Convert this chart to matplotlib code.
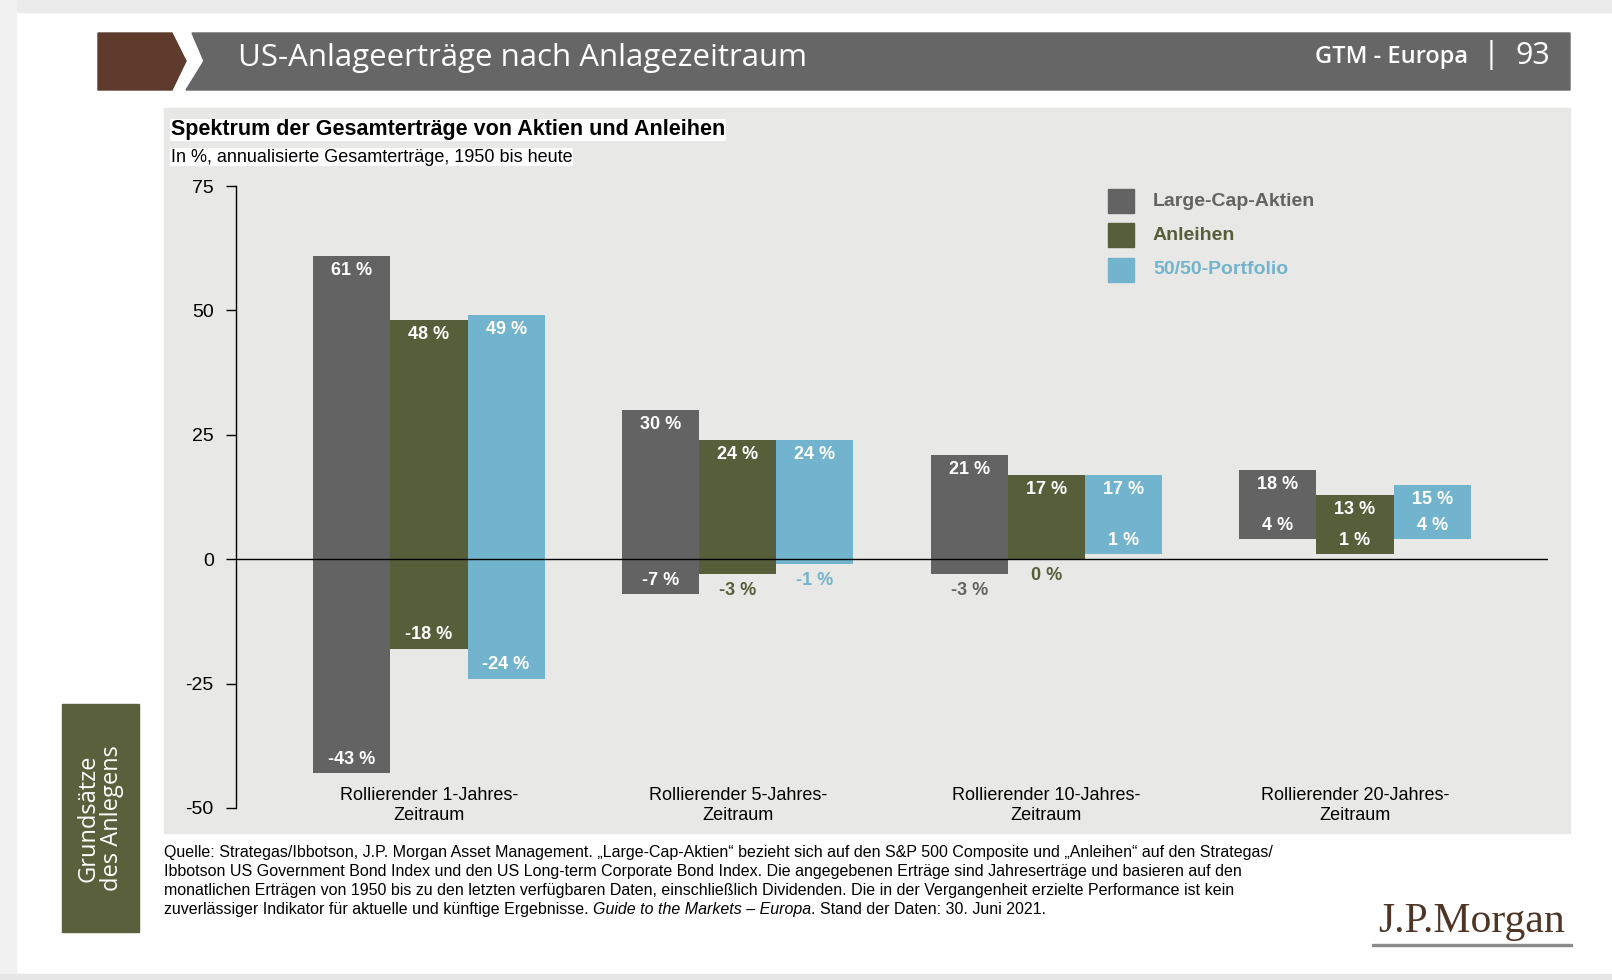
import matplotlib.pyplot as plt
from matplotlib.patches import Rectangle, Polygon
import numpy as np

plt.rcParams['font.family'] = ['Liberation Sans', 'DejaVu Sans']
plt.rcParams['axes.unicode_minus'] = False

# data
zeitraeume = ['Rollierender 1-Jahres-\nZeitraum', 'Rollierender 5-Jahres-\nZeitraum',
              'Rollierender 10-Jahres-\nZeitraum', 'Rollierender 20-Jahres-\nZeitraum']
serien = ['Large-Cap-Aktien', 'Anleihen', '50/50-Portfolio']
aktien_max = [61, 30, 21, 18]
aktien_min = [-43, -7, -3, 4]
anleihen_max = [48, 24, 17, 13]
anleihen_min = [-18, -3, 0, 1]
portfolio_max = [49, 24, 17, 15]
portfolio_min = [-24, -1, 1, 4]
y_ticks = [75, 50, 25, 0, -25, -50]

farben = ['#636363', '#575e3a', '#72b3cd']
W, H = 1612, 980

fig = plt.figure(figsize=(W / 100, H / 100), dpi=100, facecolor='white')

def fx(px):
    return px / W

def fy(py):
    return 1 - py / H

# page frame and header
fig.patches.append(Rectangle((0, fy(12)), 1, 12 / H, transform=fig.transFigure,
                             color='#ebebeb', zorder=0))
fig.patches.append(Rectangle((0, 0), 16 / W, 1, transform=fig.transFigure,
                             color='#f1f1f1', zorder=0))
fig.patches.append(Rectangle((0, 0), 1, 6 / H, transform=fig.transFigure,
                             color='#e6e6e6', zorder=0))
fig.patches.append(Polygon([(fx(98), fy(33)), (fx(172), fy(33)), (fx(186), fy(61)),
                            (fx(172), fy(90)), (fx(98), fy(90))],
                           transform=fig.transFigure, color='#5e3b2d', zorder=1))
fig.patches.append(Polygon([(fx(192), fy(33)), (fx(1570), fy(33)), (fx(1570), fy(90)),
                            (fx(186), fy(90)), (fx(204), fy(61))],
                           transform=fig.transFigure, color='#666666', zorder=1))
fig.text(fx(238), fy(58), 'US-Anlageerträge nach Anlagezeitraum', family='Open Sans',
         fontsize=22.5, color='white', va='center', ha='left')
fig.text(fx(1468), fy(57), 'GTM - Europa', family='Open Sans', fontsize=17,
         color='white', va='center', ha='right', weight='semibold')
fig.text(fx(1491), fy(55), '|', family='Open Sans', fontsize=22, color='white',
         va='center', ha='center')
fig.text(fx(1550), fy(56), '93', family='Open Sans', fontsize=22, color='white',
         va='center', ha='right')

# chart panel
fig.patches.append(Rectangle((fx(164), fy(833)), (1570 - 164) / W, (833 - 108) / H,
                             transform=fig.transFigure, color='#e8e8e6', zorder=1))
fig.text(fx(171), fy(130), 'Spektrum der Gesamterträge von Aktien und Anleihen',
         fontsize=15.5, weight='bold', va='center', ha='left',
         bbox=dict(facecolor='white', edgecolor='none', pad=0.5))
fig.text(fx(171), fy(157), 'In %, annualisierte Gesamterträge, 1950 bis heute',
         fontsize=13, va='center', ha='left',
         bbox=dict(facecolor='white', edgecolor='none', pad=0.5))

# side tab
fig.patches.append(Rectangle((fx(62), fy(932)), 77 / W, (932 - 704) / H,
                             transform=fig.transFigure, color='#5a5f3c', zorder=1))
fig.text(fx(100), fy(818), 'Grundsätze\ndes Anlegens', family='Open Sans', fontsize=17,
         color='white', rotation=90, va='center', ha='center', linespacing=0.95)

# axes
ax = fig.add_axes([fx(236), fy(808), (1548 - 236) / W, (808 - 186) / H])
ax.set_zorder(5)
ax.set_facecolor('none')
ax.set_xlim(-0.625, 3.625)
ax.set_ylim(-50, 75)
ax.set_yticks(y_ticks)
ax.tick_params(axis='y', direction='out', length=7, width=1, labelsize=14, pad=9)
ax.set_xticks([])
for s in ['top', 'right', 'bottom']:
    ax.spines[s].set_visible(False)
ax.spines['left'].set_linewidth(1)
ax.axhline(0, color='black', lw=1, zorder=3)

x = np.arange(len(zeitraeume))
breite = 0.25
hochs = [aktien_max, anleihen_max, portfolio_max]
tiefs = [aktien_min, anleihen_min, portfolio_min]
for i in range(3):
    pos = x + (i - 1) * breite
    hi = np.array(hochs[i])
    lo = np.array(tiefs[i])
    ax.bar(pos, hi - lo, bottom=lo, width=breite, color=farben[i], zorder=2,
           label=serien[i])
    for p, h, l in zip(pos, hi, lo):
        ax.annotate('%d %%' % h, (p, h), xytext=(0, -10.5), textcoords='offset points',
                    ha='center', va='center', color='white', weight='bold',
                    fontsize=13, zorder=4)
        if l > 0 or l < -5:
            ax.annotate('%d %%' % l, (p, l), xytext=(0, 10), textcoords='offset points',
                        ha='center', va='center', color='white', weight='bold',
                        fontsize=13, zorder=4)
        else:
            ax.annotate('%d %%' % l, (p, l), xytext=(0, -11.5), textcoords='offset points',
                        ha='center', va='center', color=farben[i], weight='bold',
                        fontsize=13, zorder=4)

# category labels sit just above the bottom of the axis
for xi, lab in zip(x, zeitraeume):
    ax.text(xi, -49.5, lab, ha='center', va='center', fontsize=13, linespacing=1.3)

# legend
for i in range(3):
    yc = [201, 235, 270][i]
    fig.patches.append(Rectangle((fx(1108), fy(yc + 12)), 26 / W, 24 / H,
                                 transform=fig.transFigure, color=farben[i], zorder=3))
    fig.text(fx(1153), fy(yc), serien[i], fontsize=14, weight='bold', color=farben[i],
             va='center', ha='left')

# footnote
zeilen = [
    'Quelle: Strategas/Ibbotson, J.P. Morgan Asset Management. „Large-Cap-Aktien“ bezieht sich auf den S&P 500 Composite und „Anleihen“ auf den Strategas/',
    'Ibbotson US Government Bond Index und den US Long-term Corporate Bond Index. Die angegebenen Erträge sind Jahreserträge und basieren auf den',
    'monatlichen Erträgen von 1950 bis zu den letzten verfügbaren Daten, einschließlich Dividenden. Die in der Vergangenheit erzielte Performance ist kein',
]
fn = 11.5
for k, z in enumerate(zeilen):
    fig.text(fx(164), fy(852 + 19 * k), z, fontsize=fn, va='center', ha='left')

teile = [('zuverlässiger Indikator für aktuelle und künftige Ergebnisse. ', 'normal'),
         ('Guide to the Markets – Europa', 'italic'),
         ('. Stand der Daten: 30. Juni 2021.', 'normal')]
renderer = fig.canvas.get_renderer()
xpos = fx(164)
for txt, st in teile:
    t = fig.text(xpos, fy(909), txt, fontsize=fn, style=st, va='center', ha='left')
    bb = t.get_window_extent(renderer=renderer)
    xpos += bb.width / W

# logo
fig.text(fx(1472), fy(922), 'J.P.Morgan', family='Liberation Serif', fontsize=30,
         color='#4e3526', va='center', ha='center')
fig.patches.append(Rectangle((fx(1372), fy(946)), 200 / W, 2 / H,
                             transform=fig.transFigure, color='#8a8a8a', zorder=2))

fig.savefig('out.png', dpi=100, facecolor='white')
